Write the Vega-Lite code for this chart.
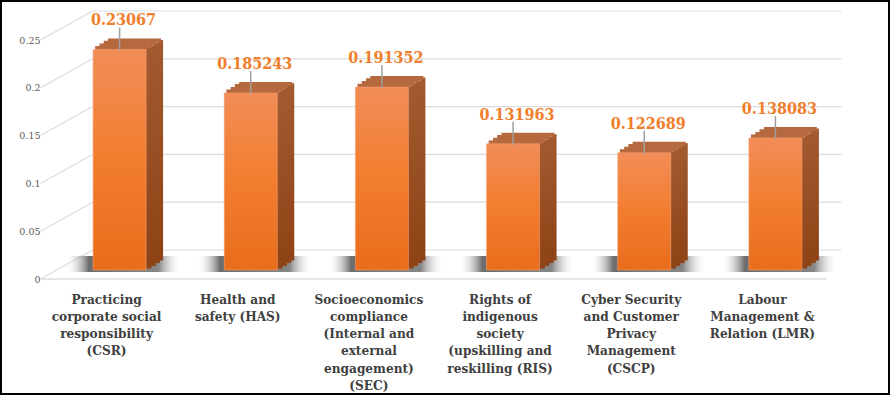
{
  "$schema": "https://vega.github.io/schema/vega-lite/v6.json",
  "width": 890,
  "height": 395,
  "autosize": "none",
  "padding": 0,
  "background": "white",
  "view": {"stroke": "black", "strokeWidth": 4},
  "datasets": {
    "bars": [
      {"factor": "Practicing corporate social responsibility (CSR)", "value": 0.23067},
      {"factor": "Health and safety (HAS)", "value": 0.185243},
      {"factor": "Socioeconomics compliance (Internal and external engagement) (SEC)", "value": 0.191352},
      {"factor": "Rights of indigenous society (upskilling and reskilling (RIS)", "value": 0.131963},
      {"factor": "Cyber Security and Customer Privacy Management (CSCP)", "value": 0.122689},
      {"factor": "Labour Management & Relation (LMR)", "value": 0.138083}
    ],
    "ticks": [
      {"tick": 0}, {"tick": 0.05}, {"tick": 0.1}, {"tick": 0.15}, {"tick": 0.2}, {"tick": 0.25}
    ]
  },
  "layer": [
    {
      "data": {"name": "ticks"},
      "mark": {"type": "rule", "color": "#DCDCDC", "strokeWidth": 1.2, "xOffset": -27, "x2Offset": 66, "yOffset": -29},
      "encoding": {
        "x": {"datum": "Practicing corporate social responsibility (CSR)", "type": "nominal"},
        "x2": {"datum": "Labour Management & Relation (LMR)"},
        "y": {"field": "tick", "type": "quantitative"}
      }
    },
    {
      "data": {"name": "ticks"},
      "mark": {"type": "rule", "color": "#DCDCDC", "strokeWidth": 1.2, "xOffset": -79, "x2Offset": -27, "y2Offset": -29},
      "encoding": {
        "x": {"datum": "Practicing corporate social responsibility (CSR)", "type": "nominal"},
        "x2": {"datum": "Practicing corporate social responsibility (CSR)"},
        "y": {"field": "tick", "type": "quantitative"},
        "y2": {"field": "tick"}
      }
    },
    {
      "data": {"values": [{"tick": 0}]},
      "mark": {"type": "rule", "color": "#DCDCDC", "strokeWidth": 1.5, "xOffset": -79, "x2Offset": 51},
      "encoding": {
        "x": {"datum": "Practicing corporate social responsibility (CSR)", "type": "nominal"},
        "x2": {"datum": "Labour Management & Relation (LMR)"},
        "y": {"field": "tick", "type": "quantitative"}
      }
    },
    {
      "data": {"name": "bars"},
      "mark": {
        "type": "bar",
        "width": 116,
        "xOffset": 4,
        "yOffset": -7,
        "y2Offset": -23,
        "fill": {
          "gradient": "linear", "x1": 0, "y1": 0, "x2": 1, "y2": 0,
          "stops": [
            {"offset": 0, "color": "rgba(255,255,255,0)"},
            {"offset": 0.2, "color": "rgba(60,60,60,0.75)"},
            {"offset": 0.8, "color": "rgba(70,70,70,0.65)"},
            {"offset": 1, "color": "rgba(255,255,255,0)"}
          ]
        }
      },
      "encoding": {
        "x": {"field": "factor", "type": "nominal", "sort": null},
        "y": {"datum": 0, "type": "quantitative"},
        "y2": {"datum": 0}
      }
    },
    {
      "data": {"name": "bars"},
      "mark": {"type": "bar", "width": 6.5, "xOffset": 28.6, "yOffset": -10.4, "y2Offset": -10.4, "fill": {"gradient": "linear", "x1": 0, "y1": 0, "x2": 0, "y2": 1, "stops": [{"offset": 0, "color": "#A35A30"}, {"offset": 1, "color": "#8E4316"}]}},
      "encoding": {"x": {"field": "factor", "type": "nominal", "sort": null}, "y": {"field": "value", "type": "quantitative"}, "y2": {"datum": 0}}
    },
    {
      "data": {"name": "bars"},
      "mark": {"type": "bar", "width": 6.5, "xOffset": 32.9, "yOffset": -13.1, "y2Offset": -13.1, "fill": {"gradient": "linear", "x1": 0, "y1": 0, "x2": 0, "y2": 1, "stops": [{"offset": 0, "color": "#A35A30"}, {"offset": 1, "color": "#8E4316"}]}},
      "encoding": {"x": {"field": "factor", "type": "nominal", "sort": null}, "y": {"field": "value", "type": "quantitative"}, "y2": {"datum": 0}}
    },
    {
      "data": {"name": "bars"},
      "mark": {"type": "bar", "width": 6.5, "xOffset": 37.1, "yOffset": -15.9, "y2Offset": -15.9, "fill": {"gradient": "linear", "x1": 0, "y1": 0, "x2": 0, "y2": 1, "stops": [{"offset": 0, "color": "#A35A30"}, {"offset": 1, "color": "#8E4316"}]}},
      "encoding": {"x": {"field": "factor", "type": "nominal", "sort": null}, "y": {"field": "value", "type": "quantitative"}, "y2": {"datum": 0}}
    },
    {
      "data": {"name": "bars"},
      "mark": {"type": "bar", "width": 4.4, "xOffset": 41.3, "yOffset": -18.6, "y2Offset": -18.6, "fill": {"gradient": "linear", "x1": 0, "y1": 0, "x2": 0, "y2": 1, "stops": [{"offset": 0, "color": "#A35A30"}, {"offset": 1, "color": "#8E4316"}]}},
      "encoding": {"x": {"field": "factor", "type": "nominal", "sort": null}, "y": {"field": "value", "type": "quantitative"}, "y2": {"datum": 0}}
    },
    {
      "data": {"name": "bars"},
      "mark": {"type": "bar", "width": 53, "xOffset": 14.9, "yOffset": -20, "y2Offset": -16, "fill": "#B6683E"},
      "encoding": {"x": {"field": "factor", "type": "nominal", "sort": null}, "y": {"field": "value", "type": "quantitative"}, "y2": {"field": "value"}}
    },
    {
      "data": {"name": "bars"},
      "mark": {"type": "bar", "width": 53, "xOffset": 10.6, "yOffset": -17.8, "y2Offset": -13.5, "fill": "#B6683E"},
      "encoding": {"x": {"field": "factor", "type": "nominal", "sort": null}, "y": {"field": "value", "type": "quantitative"}, "y2": {"field": "value"}}
    },
    {
      "data": {"name": "bars"},
      "mark": {"type": "bar", "width": 53, "xOffset": 6.4, "yOffset": -15, "y2Offset": -10.8, "fill": "#B6683E"},
      "encoding": {"x": {"field": "factor", "type": "nominal", "sort": null}, "y": {"field": "value", "type": "quantitative"}, "y2": {"field": "value"}}
    },
    {
      "data": {"name": "bars"},
      "mark": {"type": "bar", "width": 53, "xOffset": 2.1, "yOffset": -12.4, "y2Offset": -8.5, "fill": "#B6683E"},
      "encoding": {"x": {"field": "factor", "type": "nominal", "sort": null}, "y": {"field": "value", "type": "quantitative"}, "y2": {"field": "value"}}
    },
    {
      "data": {"name": "bars"},
      "mark": {
        "type": "bar",
        "width": 53,
        "yOffset": -9,
        "y2Offset": -9,
        "stroke": "#F5A070",
        "strokeWidth": 0.6,
        "fill": {
          "gradient": "linear", "x1": 0, "y1": 0, "x2": 0, "y2": 1,
          "stops": [
            {"offset": 0, "color": "#F28D58"},
            {"offset": 0.5, "color": "#F27D2E"},
            {"offset": 1, "color": "#E86D1C"}
          ]
        }
      },
      "encoding": {
        "x": {
          "field": "factor", "type": "nominal", "sort": null,
          "scale": {
            "domain": [
              "Practicing corporate social responsibility (CSR)",
              "Health and safety (HAS)",
              "Socioeconomics compliance (Internal and external engagement) (SEC)",
              "Rights of indigenous society (upskilling and reskilling (RIS)",
              "Cyber Security and Customer Privacy Management (CSCP)",
              "Labour Management & Relation (LMR)"
            ],
            "range": [54, 841], "paddingInner": 0, "paddingOuter": 0
          },
          "axis": {
            "orient": "bottom",
            "offset": -105,
            "title": null,
            "domain": false,
            "ticks": false,
            "labelAngle": 0,
            "labelAlign": "center",
            "labelOffset": -13,
            "labelPadding": 2,
            "labelBaseline": "top",
            "labelFont": "DejaVu Serif Condensed, DejaVu Serif",
            "labelFontSize": 13.5,
            "labelFontWeight": "bold",
            "labelColor": "#404040",
            "labelLineHeight": 17.3,
            "labelLimit": 200,
            "labelOverlap": false,
            "labelExpr": "datum.value == 'Practicing corporate social responsibility (CSR)' ? ['Practicing', 'corporate social', 'responsibility', '(CSR)'] : datum.value == 'Health and safety (HAS)' ? ['Health and', 'safety (HAS)'] : datum.value == 'Socioeconomics compliance (Internal and external engagement) (SEC)' ? ['Socioeconomics', 'compliance', '(Internal and', 'external', 'engagement)', '(SEC)'] : datum.value == 'Rights of indigenous society (upskilling and reskilling (RIS)' ? ['Rights of', 'indigenous', 'society', '(upskilling and', 'reskilling (RIS)'] : datum.value == 'Cyber Security and Customer Privacy Management (CSCP)' ? ['Cyber Security', 'and Customer', 'Privacy', 'Management', '(CSCP)'] : ['Labour', 'Management &', 'Relation (LMR)']"
          }
        },
        "y": {
          "field": "value", "type": "quantitative",
          "scale": {"domain": [0, 0.25], "range": [279, 40], "nice": false, "zero": true},
          "axis": {
            "orient": "left",
            "offset": -42,
            "title": null,
            "domain": false,
            "ticks": false,
            "grid": false,
            "values": [0, 0.05, 0.1, 0.15, 0.2, 0.25],
            "labelPadding": 2,
            "labelFont": "DejaVu Serif",
            "labelFontSize": 9.5,
            "labelColor": "#595959",
            "labelExpr": "datum.value == 0 ? '0' : format(datum.value, '.2~f')"
          }
        },
        "y2": {"datum": 0}
      }
    },
    {
      "data": {"name": "bars"},
      "mark": {"type": "rule", "color": "#A0A0A0", "strokeWidth": 1.5, "yOffset": -31, "y2Offset": -8},
      "encoding": {
        "x": {"field": "factor", "type": "nominal", "sort": null},
        "y": {"field": "value", "type": "quantitative"},
        "y2": {"field": "value"}
      }
    },
    {
      "data": {"name": "bars"},
      "mark": {
        "type": "text",
        "yOffset": -33,
        "xOffset": 4,
        "baseline": "alphabetic",
        "align": "center",
        "font": "DejaVu Serif Condensed, DejaVu Serif",
        "fontSize": 16,
        "fontWeight": "bold",
        "fill": "#F07E2C"
      },
      "encoding": {
        "x": {"field": "factor", "type": "nominal", "sort": null},
        "y": {"field": "value", "type": "quantitative"},
        "text": {"field": "value", "type": "quantitative", "format": "~g"}
      }
    }
  ]
}
